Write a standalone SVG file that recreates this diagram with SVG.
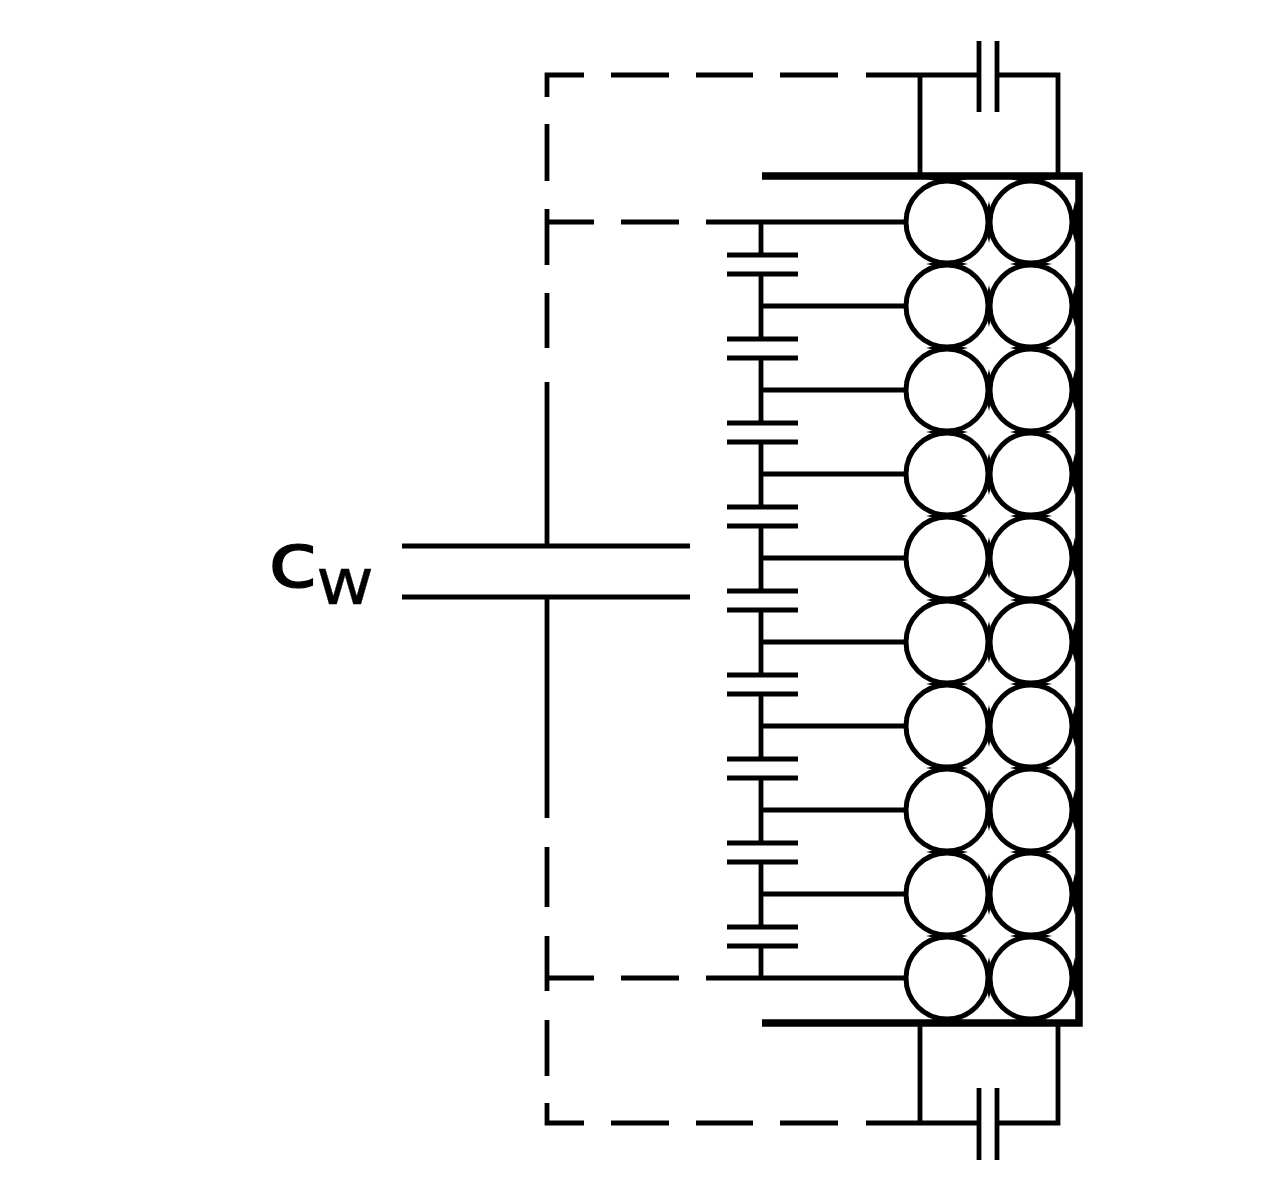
<svg xmlns="http://www.w3.org/2000/svg" width="1280" height="1190" viewBox="0 0 1280 1190">
<style>
.w{fill:none;stroke:#000;stroke-width:4.8}
.p{fill:none;stroke:#000;stroke-width:7.5}
.b{fill:none;stroke:#000;stroke-width:5.2}
.c{fill:#fff;stroke:#000;stroke-width:5}
text{font-family:"DejaVu Sans",sans-serif;fill:#000;stroke:#000}
</style>
<defs>
<filter id="soft" filterUnits="userSpaceOnUse" x="0" y="0" width="1280" height="1190"><feGaussianBlur stdDeviation="0.7"/></filter>
<path id="h" d="M-21 0Q0 -6 21 0Q0 6 -21 0Z"/>
<path id="v" d="M0 -21Q-6 0 0 21Q6 0 0 -21Z"/>
</defs>
<rect width="1280" height="1190" fill="#fff"/>
<g filter="url(#soft)">
<g id="connectors">
<path class="w" d="M584 75H547V97M611 75H669M696 75H753M780 75H838M866 75H979M997 75H1058V176M920 75V176"/>
<path class="w" d="M547 124V181M547 209V265M547 293V348M547 382V546M547 597V818M547 847V907M547 936V991M547 1020V1076M547 1103V1123H584M611 1123H669M696 1123H753M780 1123H838M866 1123H979M997 1123H1058V1023M920 1123V1023"/>
<path class="w" d="M547 222H594M621 222H679M706 222H907M547 978H594M621 978H679M706 978H907"/>
<path class="w" d="M979 41V112M997 41V112M979 1088V1160M997 1088V1160"/>
<path class="b" d="M402 546H690M402 597H690"/>
<path class="w" d="M761 222V255M761 274V339M761 358V423M761 442V507M761 526V591M761 610V675M761 694V759M761 778V843M761 862V927M761 946V978"/>
<path class="w" d="M727 255H798M727 274H798M727 339H798M727 358H798M727 423H798M727 442H798M727 507H798M727 526H798M727 591H798M727 610H798M727 675H798M727 694H798M727 759H798M727 778H798M727 843H798M727 862H798M727 927H798M727 946H798"/>
<path class="w" d="M761 306H907M761 390H907M761 474H907M761 558H907M761 642H907M761 726H907M761 810H907M761 894H907"/>
</g>
<g id="electrode">
<g id="circles">
<circle class="c" cx="947" cy="222" r="41"/><circle class="c" cx="1031" cy="222" r="41"/>
<circle class="c" cx="947" cy="306" r="41"/><circle class="c" cx="1031" cy="306" r="41"/>
<circle class="c" cx="947" cy="390" r="41"/><circle class="c" cx="1031" cy="390" r="41"/>
<circle class="c" cx="947" cy="474" r="41"/><circle class="c" cx="1031" cy="474" r="41"/>
<circle class="c" cx="947" cy="558" r="41"/><circle class="c" cx="1031" cy="558" r="41"/>
<circle class="c" cx="947" cy="642" r="41"/><circle class="c" cx="1031" cy="642" r="41"/>
<circle class="c" cx="947" cy="726" r="41"/><circle class="c" cx="1031" cy="726" r="41"/>
<circle class="c" cx="947" cy="810" r="41"/><circle class="c" cx="1031" cy="810" r="41"/>
<circle class="c" cx="947" cy="894" r="41"/><circle class="c" cx="1031" cy="894" r="41"/>
<circle class="c" cx="947" cy="978" r="41"/><circle class="c" cx="1031" cy="978" r="41"/>
</g>
<g id="joins">
<use href="#h" x="947" y="264"/><use href="#h" x="1031" y="264"/>
<use href="#h" x="947" y="348"/><use href="#h" x="1031" y="348"/>
<use href="#h" x="947" y="432"/><use href="#h" x="1031" y="432"/>
<use href="#h" x="947" y="516"/><use href="#h" x="1031" y="516"/>
<use href="#h" x="947" y="600"/><use href="#h" x="1031" y="600"/>
<use href="#h" x="947" y="684"/><use href="#h" x="1031" y="684"/>
<use href="#h" x="947" y="768"/><use href="#h" x="1031" y="768"/>
<use href="#h" x="947" y="852"/><use href="#h" x="1031" y="852"/>
<use href="#h" x="947" y="936"/><use href="#h" x="1031" y="936"/>
<use href="#v" x="989" y="222"/><use href="#v" x="989" y="306"/><use href="#v" x="989" y="390"/><use href="#v" x="989" y="474"/><use href="#v" x="989" y="558"/>
<use href="#v" x="989" y="642"/><use href="#v" x="989" y="726"/><use href="#v" x="989" y="810"/><use href="#v" x="989" y="894"/><use href="#v" x="989" y="978"/>
<use href="#v" x="1075" y="222"/><use href="#v" x="1075" y="306"/><use href="#v" x="1075" y="390"/><use href="#v" x="1075" y="474"/><use href="#v" x="1075" y="558"/>
<use href="#v" x="1075" y="642"/><use href="#v" x="1075" y="726"/><use href="#v" x="1075" y="810"/><use href="#v" x="1075" y="894"/><use href="#v" x="1075" y="978"/>
<use href="#h" x="947" y="179"/><use href="#h" x="1031" y="179"/><use href="#h" x="947" y="1021"/><use href="#h" x="1031" y="1021"/>
</g>
<path class="p" d="M762 176H1079V1023H762"/>
</g>
<g id="label">
<text x="268" y="587" font-size="76" stroke-width="1.2" textLength="50" lengthAdjust="spacingAndGlyphs">c</text>
<text x="316" y="604" font-size="64" stroke-width="0.3" textLength="58" lengthAdjust="spacingAndGlyphs">w</text>
</g>
</g>
</svg>
